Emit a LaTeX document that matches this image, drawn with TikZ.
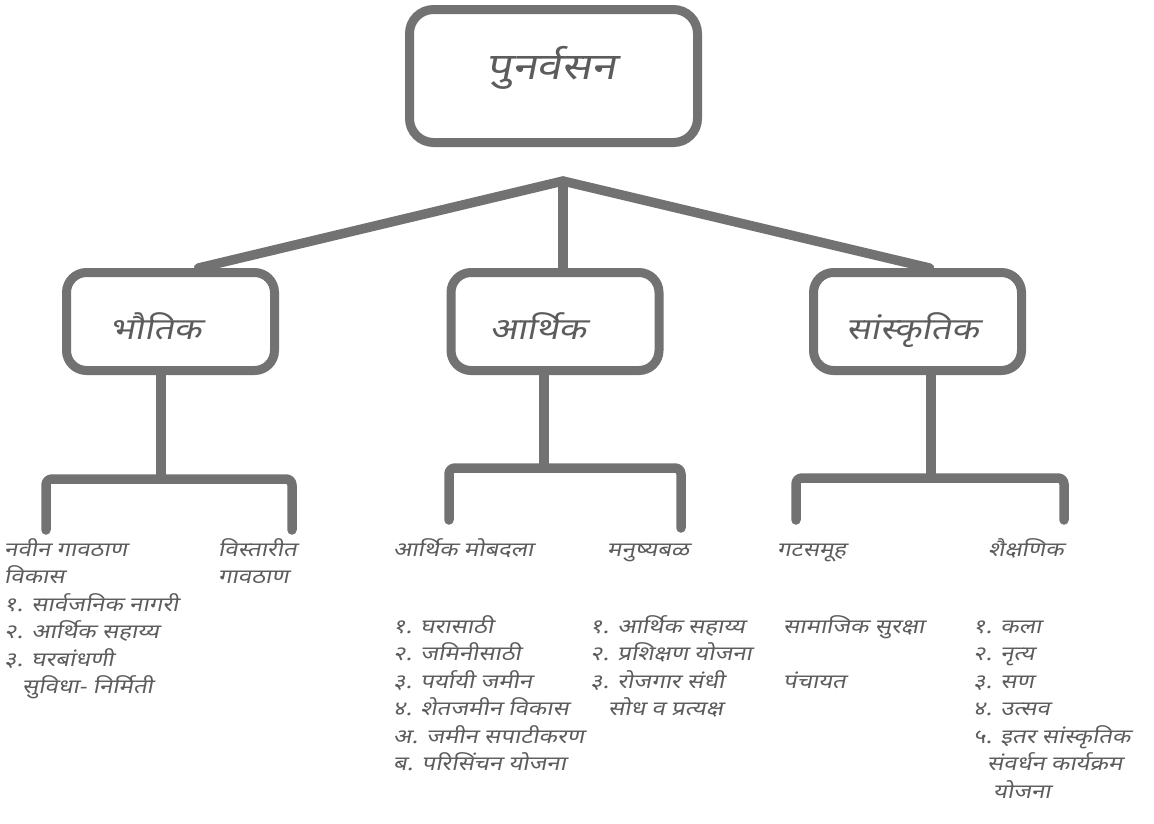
\documentclass[tikz,border=0pt]{standalone}
\usepackage{fontspec}
\usetikzlibrary{positioning, calc}
\newfontfamily\devFont[Script=Devanagari, FakeSlant=0.2, FakeStretch=1.2]{Noto Sans}
\definecolor{Frame}{HTML}{727272}
\definecolor{Ink}{HTML}{5c5c5c}
\def\boxLabel#1#2#3{\makebox[0pt]{\hspace*{#1}\raisebox{#2}[0pt][0pt]{#3}}}

\begin{document}
\begin{tikzpicture}[
    x=1pt, y=-1pt,
    linkLine/.style={draw=Frame, line width=9.5pt, line cap=round, line join=round},
    rootBox/.style={draw=Frame, line width=9pt, rounded corners=24pt, fill=white,
      minimum width=288pt, minimum height=133pt, text=Ink,
      font=\devFont\fontsize{37}{40}\selectfont},
    branchBox/.style={draw=Frame, line width=9pt, rounded corners=20pt, fill=white,
      minimum width=208pt, minimum height=98pt, text=Ink,
      font=\devFont\fontsize{30}{34}\selectfont},
    % base west = baseline of the last line
    leafText/.style={text=Ink, font=\devFont\fontsize{20}{27.5}\selectfont,
      align=left, inner sep=0pt, anchor=base west},
  ]
  \useasboundingbox (0,0) rectangle (1154,823);

  % boxes
  \node[rootBox] (punarvasan) at (553.5,76) {\boxLabel{-4pt}{-3pt}{पुनर्वसन}};
  \node[branchBox] (bhautik) at (170.5,321.5) {\boxLabel{-30pt}{-18pt}{भौतिक}};
  \node[branchBox] (arthik) at (555,321.5) {\boxLabel{-34pt}{-18pt}{आर्थिक}};
  \node[branchBox] (sanskrutik) at (917.5,321.5) {\boxLabel{-10pt}{-18pt}{सांस्कृतिक}};

  % leaves
  \node[leafText] (navinVikas) at (4,583.5) {नवीन गावठाण\\विकास};
  \node[leafText] (navinList) at (4,693.5) {१. सार्वजनिक नागरी\\२. आर्थिक सहाय्य\\३. घरबांधणी\\\hspace*{18pt}सुविधा- निर्मिती};
  \node[leafText] (vistarit) at (218,583.5) {विस्तारीत\\गावठाण};
  \node[leafText] (mobdala) at (393,556) {आर्थिक मोबदला};
  \node[leafText] (mobdalaList) at (393,770.5) {१. घरासाठी\\२. जमिनीसाठी\\३. पर्यायी जमीन\\४. शेतजमीन विकास\\अ. जमीन सपाटीकरण\\ब. परिसिंचन योजना};
  \node[leafText] (manushyabal) at (607,556) {मनुष्यबळ};
  \node[leafText] (manushyabalList) at (590,715.5) {१. आर्थिक सहाय्य\\२. प्रशिक्षण योजना\\३. रोजगार संधी\\\hspace*{18pt}सोध व प्रत्यक्ष};
  \node[leafText] (gatsamuh) at (777,556) {गटसमूह};
  \node[leafText] (gatsamuhList) at (783,688) {सामाजिक सुरक्षा\\[27.5pt]पंचायत};
  \node[leafText] (shaikshanik) at (988,556) {शैक्षणिक};
  \node[leafText] (shaikshanikList) at (973,798) {१. कला\\२. नृत्य\\३. सण\\४. उत्सव\\५. इतर सांस्कृतिक\\\hspace*{14pt}संवर्धन कार्यक्रम\\\hspace*{20pt}योजना};

  % lines
  \coordinate (apex) at (563,181);
  \draw[linkLine] ([xshift=28pt]bhautik.north) -- (apex) -- ([xshift=12pt]sanskrutik.north);
  \draw[linkLine] (apex) -- (apex |- arthik.north);

  \coordinate (bhautikFork) at (161,479);
  \coordinate (navinEnd) at (46,530);
  \coordinate (vistarEnd) at (292,530);
  \draw[linkLine] (bhautik.south -| bhautikFork) -- (bhautikFork);
  \draw[linkLine, rounded corners=6pt] (navinEnd) |- (bhautikFork) -| (vistarEnd);

  \coordinate (arthikFork) at (544,468);
  \coordinate (mobdalaEnd) at (449,520);
  \coordinate (manushyabalEnd) at (681,528);
  \draw[linkLine] (arthik.south -| arthikFork) -- (arthikFork);
  \draw[linkLine, rounded corners=6pt] (mobdalaEnd) |- (arthikFork) -| (manushyabalEnd);

  \coordinate (sanskrutikFork) at (931,478);
  \coordinate (gatsamuhEnd) at (796,520);
  \coordinate (shaikshanikEnd) at (1064,520);
  \draw[linkLine] (sanskrutik.south -| sanskrutikFork) -- (sanskrutikFork);
  \draw[linkLine, rounded corners=6pt] (gatsamuhEnd) |- (sanskrutikFork) -| (shaikshanikEnd);
\end{tikzpicture}
\end{document}
